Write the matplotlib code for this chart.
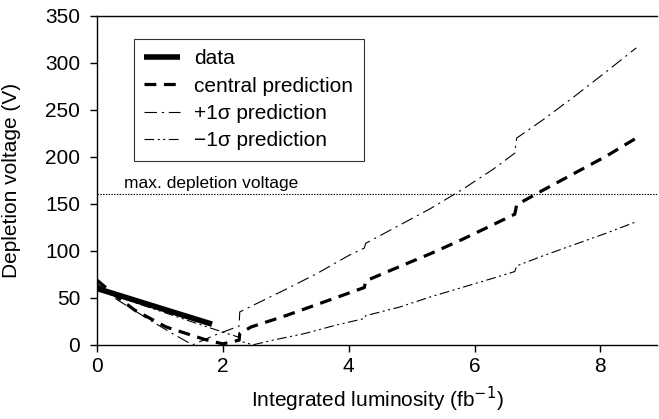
import matplotlib
matplotlib.use("Agg")
import matplotlib.pyplot as plt

plt.rcParams['font.family'] = ['Liberation Sans', 'DejaVu Sans']
plt.rcParams['font.size'] = 15
plt.rcParams['lines.scale_dashes'] = False

# data
data_x = [0.0, 1.83]
data_y = [60, 22]

central_x = [0.0, 0.3, 0.6, 1.1, 1.7, 2.0, 2.26, 2.27, 2.45, 3.0, 3.5, 4.0, 4.25, 4.27,
             4.8, 5.3, 5.8, 6.3, 6.64, 6.67, 7.1, 7.6, 8.1, 8.57]
central_y = [69, 52, 37, 19, 6, 1, 5, 12, 19, 31, 43, 55, 61, 68,
             83, 97, 112, 128, 139, 149, 165, 183, 201, 220]

plus_x = [0.0, 0.3, 0.8, 1.2, 1.52, 1.9, 2.26, 2.27, 2.45, 3.0, 3.5, 4.0, 4.25, 4.27,
          4.8, 5.3, 5.8, 6.3, 6.64, 6.67, 7.1, 7.6, 8.1, 8.57]
plus_y = [66, 49, 28, 12, 0, 11, 20, 35, 41, 59, 76, 95, 103, 108,
          127, 145, 165, 187, 204, 220, 240, 265, 291, 316]

minus_x = [0.0, 0.2, 0.6, 1.0, 1.4, 1.8, 2.26, 2.27, 2.48, 2.8, 3.3, 3.8, 4.25, 4.27,
           4.8, 5.3, 5.8, 6.3, 6.64, 6.67, 7.1, 7.6, 8.1, 8.57]
minus_y = [64, 55, 45, 36, 27, 18, 8, 4, 0, 5, 12, 21, 28, 31,
           40, 51, 61, 71, 78, 84, 95, 107, 119, 131]

max_voltage = 160

fig = plt.figure(figsize=(6.59, 4.19), dpi=100)
ax = fig.add_axes([0.147, 0.177, 0.85, 0.785])

ax.plot(data_x, data_y, color='black', lw=4.0, solid_capstyle='butt', label='data')
ax.plot(central_x, central_y, color='black', lw=2.3, linestyle=(0, (8.5, 5.5)),
        label='central prediction')
ax.plot(plus_x, plus_y, color='black', lw=0.8, linestyle=(0, (9, 3.5, 1.5, 3.5)),
        label='+1σ prediction')
ax.plot(minus_x, minus_y, color='black', lw=0.8,
        linestyle=(0, (7, 2.5, 1.5, 2.5, 1.5, 2.5)), label='−1σ prediction')
ax.axhline(max_voltage, color='black', lw=0.8, linestyle=(0, (1, 1)))
ax.text(0.43, max_voltage + 4, 'max. depletion voltage', fontsize=12.5,
        va='bottom', ha='left')

ax.set_xlim(0, 8.9)
ax.set_ylim(0, 350)
ax.set_xticks([0, 2, 4, 6, 8])
ax.set_yticks(range(0, 351, 50))
ax.tick_params(direction='out', length=5, width=1)
ax.tick_params(axis='y', pad=7)
ax.tick_params(axis='x', pad=4)
ax.spines['right'].set_visible(False)
for s in ['left', 'bottom', 'top']:
    ax.spines[s].set_linewidth(1.0)

ax.set_xlabel('Integrated luminosity (fb$^{-1}$)', labelpad=6)
ax.set_ylabel('Depletion voltage (V)')
ax.yaxis.set_label_coords(-0.136, 0.5)

leg = ax.legend(loc='upper left', bbox_to_anchor=(0.066, 0.930), frameon=True,
                fancybox=False, edgecolor='black', handlelength=1.7,
                handletextpad=0.7, borderpad=0.5, labelspacing=0.4,
                borderaxespad=0)
leg.get_frame().set_linewidth(0.8)

fig.savefig('out.png', dpi=100)
